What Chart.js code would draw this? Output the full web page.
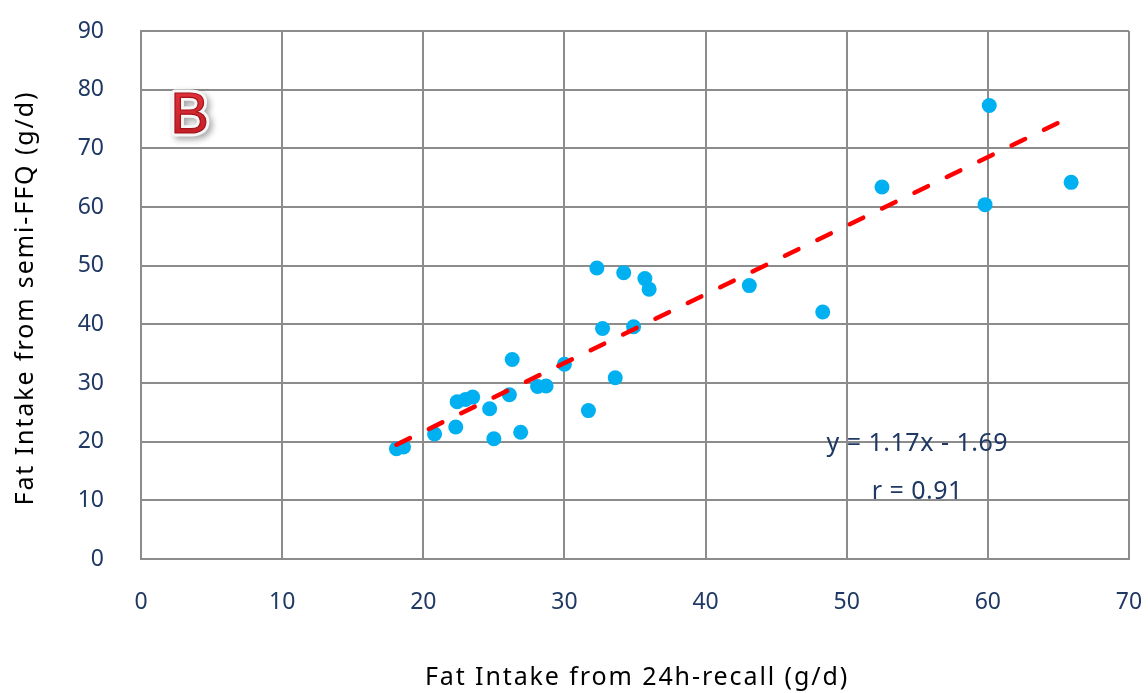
<!DOCTYPE html>
<html>
<head>
<meta charset="utf-8">
<script src="https://cdn.jsdelivr.net/npm/chart.js@4/dist/chart.umd.min.js"></script>
<style>
  html, body { margin: 0; padding: 0; background: #fff; }
  #wrap { width: 1148px; height: 693px; }
</style>
</head>
<body>
<div id="wrap"><canvas id="myChart" width="1148" height="693"></canvas></div>
<script>
// fat intake, 24h-recall (x) vs semi-FFQ (y), g/d
const recall = [18.1, 18.6, 20.8, 22.3, 22.4, 23.0, 23.5, 24.7, 25.0, 26.1, 26.3, 26.9, 28.1, 28.7, 30.0,
                31.7, 32.3, 32.7, 33.6, 34.2, 34.9, 35.7, 36.0, 43.1, 48.3, 52.5, 59.8, 60.1, 65.9];
const ffq    = [18.8, 19.1, 21.3, 22.5, 26.8, 27.2, 27.6, 25.6, 20.5, 28.0, 34.0, 21.6, 29.4, 29.5, 33.2,
                25.3, 49.6, 39.3, 30.9, 48.8, 39.6, 47.8, 46.0, 46.6, 42.1, 63.4, 60.4, 77.3, 64.2];

// regression line as printed on the chart
const slope = 1.17;
const intercept = -1.69;
const rValue = 0.91;

const xTicks = [0, 10, 20, 30, 40, 50, 60, 70];
const yTicks = [0, 10, 20, 30, 40, 50, 60, 70, 80, 90];

const xTitel = 'Fat Intake from 24h-recall (g/d)';
const yTitel = 'Fat Intake from semi-FFQ (g/d)';

const xMin = Math.min(...recall);
const xMax = Math.max(...recall);

let punkte = recall.map((x, i) => ({ x: x, y: ffq[i] }));
let trend = [
    { x: xMin, y: slope * xMin + intercept },
    { x: xMax, y: slope * xMax + intercept }
];

const navy = '#1f3864';
const gridGrau = '#8c8c8c';

// text on the plot: the panel letter, the fit equation and the axis titles
const beschriftung =
{
    id: 'beschriftung',
    afterDatasetsDraw(chart)
    {
        const ctx = chart.ctx;
        const sx = chart.scales.x;
        const sy = chart.scales.y;
        const area = chart.chartArea;

        ctx.save();
        ctx.textAlign = 'center';
        ctx.textBaseline = 'middle';

        // panel letter: red with a white halo and soft shadow
        const bx = sx.getPixelForValue(3.45);
        const by = sy.getPixelForValue(75.4);
        ctx.font = '58px "Liberation Sans"';
        ctx.lineJoin = 'round';
        ctx.shadowColor = 'rgba(0,0,0,0.35)';
        ctx.shadowBlur = 6;
        ctx.shadowOffsetX = 3;
        ctx.shadowOffsetY = 3;
        ctx.lineWidth = 7;
        ctx.strokeStyle = '#f6f6f6';
        ctx.strokeText('B', bx, by);
        ctx.shadowColor = 'transparent';
        const grad = ctx.createLinearGradient(0, by - 22, 0, by + 22);
        grad.addColorStop(0, '#de3038');
        grad.addColorStop(1, '#c01c24');
        ctx.fillStyle = grad;
        ctx.fillText('B', bx, by);
        ctx.lineWidth = 1.2;
        ctx.strokeStyle = '#a3121a';
        ctx.strokeText('B', bx, by);

        // equation and r
        ctx.font = '25px "Noto Sans"';
        ctx.letterSpacing = '0.5px';
        ctx.fillStyle = navy;
        const ex = sx.getPixelForValue(55);
        ctx.fillText('y = ' + slope.toFixed(2) + 'x - ' + Math.abs(intercept).toFixed(2), ex, sy.getPixelForValue(19.6));
        ctx.fillText('r = ' + rValue.toFixed(2), ex, sy.getPixelForValue(11.4));

        // axis titles
        ctx.font = '25px "Noto Sans"';
        ctx.letterSpacing = '1.9px';
        ctx.fillStyle = '#000';
        ctx.fillText(xTitel, (area.left + area.right) / 2 + 2, 678);
        ctx.translate(26, (area.top + area.bottom) / 2 + 3);
        ctx.rotate(-Math.PI / 2);
        ctx.fillText(yTitel, 0, 0);
        ctx.restore();
    }
};

const config =
{
    type: 'scatter',
    data:
    {
        datasets:
        [
            {
                label: 'Fat',
                data: punkte,
                backgroundColor: '#00b0f0',
                borderWidth: 0,
                pointRadius: 7.5,
                pointHoverRadius: 7.5,
                order: 2
            },
            {
                label: 'Trend',
                type: 'line',
                data: trend,
                borderColor: '#ff0000',
                borderWidth: 4.5,
                borderDash: [15, 21],
                borderCapStyle: 'round',
                pointRadius: 0,
                fill: false,
                order: 1
            }
        ]
    },
    options:
    {
        responsive: false,
        animation: false,
        layout: { padding: { top: 31, right: 19, left: 0, bottom: 0 } },
        plugins:
        {
            legend: { display: false },
            tooltip: { enabled: false }
        },
        scales:
        {
            x:
            {
                type: 'linear',
                min: 0,
                max: 70,
                afterBuildTicks: s => { s.ticks = xTicks.map(v => ({ value: v })); },
                afterFit: s => { s.height = 693 - 559; },
                grid: { color: gridGrau, lineWidth: 2, drawTicks: true, tickLength: 30, tickColor: 'rgba(0,0,0,0)' },
                border: { color: gridGrau, width: 2 },
                ticks: { color: navy, padding: 0, font: { family: 'Noto Sans', size: 23 } },
                title: { display: false, text: xTitel }
            },
            y:
            {
                type: 'linear',
                min: 0,
                max: 90,
                afterBuildTicks: s => { s.ticks = yTicks.map(v => ({ value: v })); },
                afterFit: s => { s.width = 141; },
                grid: { color: gridGrau, lineWidth: 2, drawTicks: true, tickLength: 37, tickColor: 'rgba(0,0,0,0)' },
                border: { color: gridGrau, width: 2 },
                ticks: { color: navy, padding: 0, font: { family: 'Noto Sans', size: 23 } },
                title: { display: false, text: yTitel }
            }
        }
    },
    plugins: [beschriftung]
};

new Chart(document.getElementById('myChart'), config);
</script>
</body>
</html>
